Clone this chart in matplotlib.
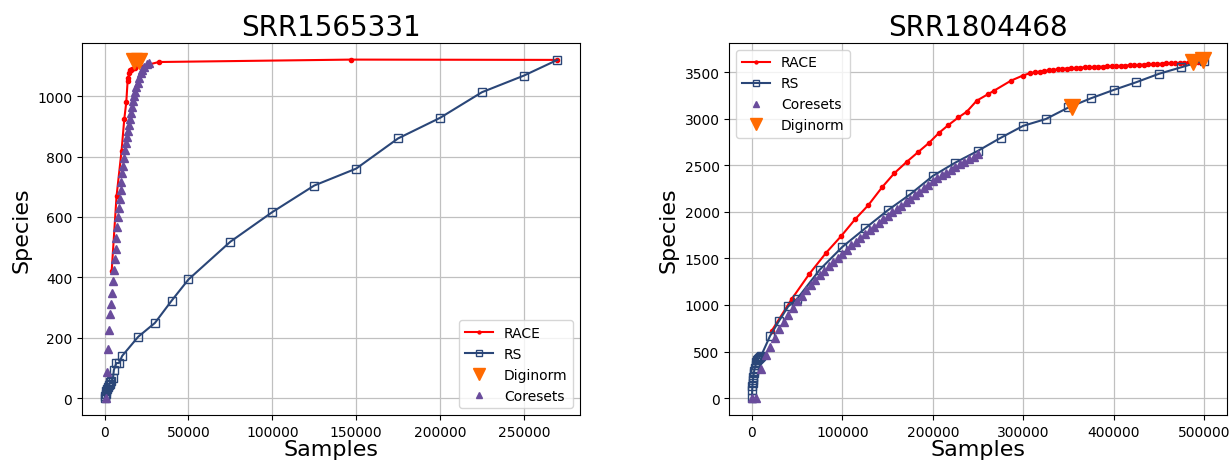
import numpy as np
import matplotlib
matplotlib.use('Agg')
import matplotlib.pyplot as plt

# ── Colours / styles ──────────────────────────────────────────────────────────
C_RACE = '#ff0000'
C_RS = '#2a4678'
C_CORE = '#6a4c9c'
C_DIGI = '#ff6a00'

# ── SRR1565331 ────────────────────────────────────────────────────────────────
race1_x = [4200, 7100, 10100, 11700, 12900, 13700, 14100, 14700, 15100, 15500,
           16200, 18000, 32300, 147000, 270000]
race1_y = [420, 668, 819, 923, 979, 1049, 1060, 1077, 1085, 1088,
           1091, 1093, 1113, 1121, 1120]

rs1_x = [0, 300, 600, 1000, 1500, 2000, 2500, 3000, 3500, 4000, 5000, 5500,
         7000, 8500, 10500, 20000, 30000, 40000, 50000, 75000, 100000, 125000,
         150000, 175000, 200000, 225000, 250000, 270000]
rs1_y = [0, 8, 15, 22, 30, 37, 42, 48, 52, 56, 67, 93,
         116, 116, 140, 203, 249, 323, 393, 518, 616, 704,
         760, 860, 928, 1013, 1068, 1120]

digi1_x = [17500, 20500]
digi1_y = [1115, 1115]

core1_x = [600, 1200, 2000, 2600, 3200, 3800, 4400, 5000, 5500, 6000, 6500,
           7000, 7500, 8000, 8500, 9000, 9500, 10000, 10600, 11200, 11800,
           12400, 13000, 13600, 14200, 14800, 15400, 16000, 16600, 17200,
           17800, 18400, 19000, 19700, 20500, 21500, 22500, 23700, 25000, 26400]
core1_y = [0, 87, 163, 224, 279, 313, 349, 388, 425, 460, 495,
           530, 565, 600, 630, 660, 690, 715, 745, 770, 795,
           820, 845, 865, 885, 905, 925, 945, 965, 985,
           1000, 1015, 1030, 1045, 1060, 1075, 1087, 1097, 1105, 1110]

# ── SRR1804468 ────────────────────────────────────────────────────────────────
race2_x = [21800, 43900, 63400, 81900, 98500, 113900, 128700, 144100, 157400,
           171100, 184000, 195800, 206900, 217200, 228300, 237500, 248600,
           261500, 267700, 286500, 299400,
           307500, 313000, 318000, 323000, 328000, 333000, 338000, 343000,
           348000, 353000, 358000, 363000, 368000, 373000, 378000, 383000,
           388000, 393000, 398000, 403000, 408000, 413000, 418000, 423000,
           428000, 433000, 438000, 443000, 448000, 453000, 458000, 463000,
           468000, 473000, 478000, 483000, 488000, 493000, 499000]
race2_y = [722, 1063, 1333, 1559, 1738, 1918, 2072, 2266, 2414,
           2536, 2643, 2740, 2848, 2931, 3013, 3074, 3193,
           3265, 3300, 3408, 3462,
           3488, 3497, 3505, 3512, 3518, 3524, 3529, 3534,
           3538, 3541, 3545, 3548, 3550, 3553, 3555, 3557,
           3559, 3561, 3563, 3565, 3568, 3570, 3573, 3575,
           3578, 3580, 3582, 3585, 3587, 3589, 3592, 3594,
           3596, 3598, 3600, 3603, 3606, 3609, 3613]

rs2_x = [0, 250, 500, 750, 1000, 1500, 2000, 2500, 3000, 4000, 5000, 6000,
         7000, 8000, 9000, 10000, 20000, 30000, 40000, 50000, 75000, 100000,
         125000, 150000, 175000, 200000, 225000, 250000, 275000, 300000,
         325000, 350000, 375000, 400000, 425000, 450000, 475000, 500000]
rs2_y = [0, 90, 130, 165, 190, 230, 265, 295, 320, 355, 385, 405,
         420, 435, 445, 452, 668, 830, 984, 1067, 1379, 1624,
         1821, 2015, 2188, 2385, 2529, 2655, 2794, 2923,
         2996, 3120, 3219, 3308, 3391, 3481, 3552, 3624]

core2_x = [0, 5000, 10000, 15000, 20000, 25000, 30000, 35000, 40000, 45000,
           50000, 55000, 60000, 65000, 70000, 75000, 80000, 85000, 90000,
           95000, 100000, 105000, 110000, 115000, 120000, 125000, 130000,
           135000, 140000, 145000, 150000, 155000, 160000, 165000, 170000,
           175000, 180000, 185000, 190000, 195000, 200000, 205000, 210000,
           215000, 220000, 225000, 230000, 235000, 240000, 245000, 250000]
core2_y = [0, 0, 310, 460, 545, 650, 740, 815, 890, 965,
           1040, 1100, 1160, 1215, 1270, 1320, 1370, 1415, 1460,
           1505, 1550, 1595, 1640, 1680, 1720, 1760, 1800,
           1840, 1880, 1918, 1955, 1993, 2030, 2067, 2104,
           2140, 2178, 2216, 2254, 2292, 2330, 2360, 2390,
           2420, 2450, 2480, 2508, 2536, 2564, 2592, 2620]

digi2_x = [353500, 488000, 498500]
digi2_y = [3121, 3606, 3634]

# ── Figure ────────────────────────────────────────────────────────────────────
fig = plt.figure(figsize=(12.31, 4.64), dpi=100)
ax1 = fig.add_axes([0.0666, 0.1034, 0.4046, 0.8018])
ax2 = fig.add_axes([0.5925, 0.1034, 0.4040, 0.8018])


def style(ax, title):
    ax.set_title(title, fontsize=20)
    ax.set_xlabel('Samples', fontsize=16, labelpad=0)
    ax.set_ylabel('Species', fontsize=16)
    ax.tick_params(labelsize=10)
    ax.grid(True, color='#c0c0c0', lw=0.9)
    ax.set_axisbelow(True)


ax1.plot(race1_x, race1_y, '-', marker='.', color=C_RACE, lw=1.5, ms=6,
         label='RACE')
ax1.plot(rs1_x, rs1_y, '-', marker='s', color=C_RS, lw=1.5, ms=6,
         mfc='none', label='RS')
ax1.plot(digi1_x, digi1_y, 'v', color=C_DIGI, ms=12, ls='none',
         label='Diginorm')
ax1.plot(core1_x, core1_y, '^', color=C_CORE, ms=6, ls='none',
         label='Coresets')
style(ax1, 'SRR1565331')
ax1.set_xlim(-13500, 283500)
ax1.set_ylim(-56, 1176)
ax1.set_xticks([0, 50000, 100000, 150000, 200000, 250000])
ax1.set_yticks([0, 200, 400, 600, 800, 1000])
ax1.legend(loc='lower right', fontsize=10, markerscale=0.7)

ax2.plot(race2_x, race2_y, '-', marker='.', color=C_RACE, lw=1.5, ms=6,
         label='RACE')
ax2.plot(rs2_x, rs2_y, '-', marker='s', color=C_RS, lw=1.5, ms=6,
         mfc='none', label='RS')
ax2.plot(core2_x, core2_y, '^', color=C_CORE, ms=6, ls='none',
         label='Coresets')
ax2.plot(digi2_x, digi2_y, 'v', color=C_DIGI, ms=12, ls='none',
         label='Diginorm')
style(ax2, 'SRR1804468')
ax2.set_xlim(-25000, 525000)
ax2.set_ylim(-181, 3812)
ax2.set_xticks([0, 100000, 200000, 300000, 400000, 500000])
ax2.set_yticks([0, 500, 1000, 1500, 2000, 2500, 3000, 3500])
ax2.legend(loc='upper left', fontsize=10, markerscale=0.7)

fig.savefig('out.png', dpi=100)
